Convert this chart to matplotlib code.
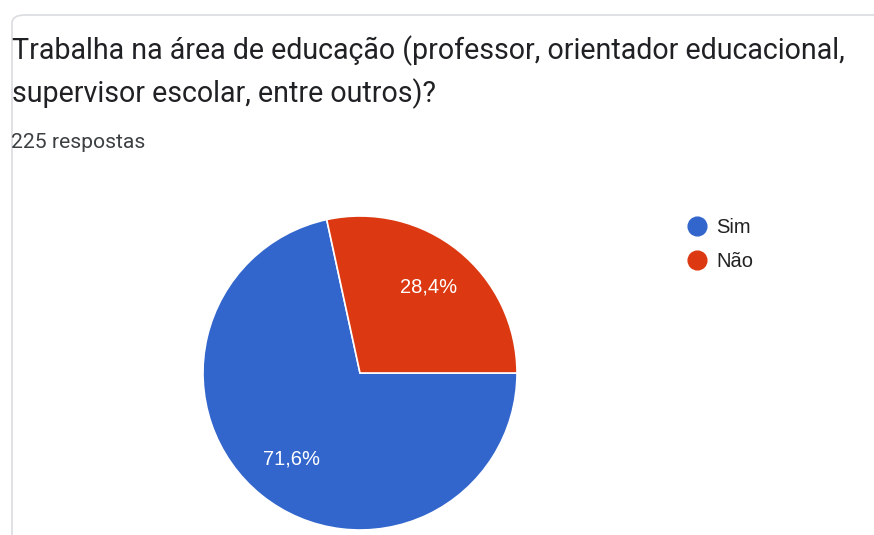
import numpy as np
import matplotlib.pyplot as plt
from matplotlib.patches import FancyBboxPatch
from matplotlib.lines import Line2D

labels = ['Sim', 'Não']
values = [71.6, 28.4]
colors = ['#3366cc', '#dc3912']
pct_labels = ['71,6%', '28,4%']

title_lines = ['Trabalha na área de educação (professor, orientador educacional,',
               'supervisor escolar, entre outros)?']
subtitle = '225 respostas'

W, H = 874, 535
fig = plt.figure(figsize=(W / 100, H / 100), dpi=100)
fig.patch.set_facecolor('white')

# card border
card = FancyBboxPatch((12 / W, -0.05), 1.0, 1 - 15 / H + 0.05,
                      boxstyle='round,pad=0,rounding_size=0.015',
                      transform=fig.transFigure, facecolor='white',
                      edgecolor='#dadce0', linewidth=1.2, zorder=-1)
fig.patches.append(card)

# title lines
for line, yb in zip(title_lines, [59, 102]):
    fig.text(12 / W, 1 - yb / H, line, fontsize=20.6, family='Roboto',
             color='#202124', va='baseline', ha='left')
fig.text(11 / W, 1 - 148 / H, subtitle, fontsize=15.2, family='Roboto',
         color='#3c4043', va='baseline', ha='left')

# pie: centre (360, 373), radius 157 px
cx, cy, r = 360, 373, 157
ax = fig.add_axes([(cx - r) / W, (H - cy - r) / H, 2 * r / W, 2 * r / H])
wedges, _ = ax.pie(values, colors=colors, startangle=102.24, counterclock=True,
                   wedgeprops=dict(edgecolor='white', linewidth=1.2))
for w, lab in zip(wedges, pct_labels):
    ang = np.deg2rad((w.theta1 + w.theta2) / 2)
    ax.text(0.7 * np.cos(ang), 0.7 * np.sin(ang), lab, ha='center', va='center',
            color='white', fontsize=14.5, family='Liberation Sans')
ax.set_xlim(-1, 1)
ax.set_ylim(-1, 1)
ax.set_aspect('equal')
ax.axis('off')

handles = [Line2D([], [], marker='o', linestyle='none', markersize=13.5,
                  markerfacecolor=c, markeredgecolor=c) for c in colors]
fig.legend(handles, labels, loc='upper left', bbox_to_anchor=(687 / W, 1 - 218 / H),
           frameon=False, borderpad=0, borderaxespad=0, handlelength=1.0,
           handletextpad=0.45, labelspacing=0.75,
           prop={'family': 'Liberation Sans', 'size': 14.5}, labelcolor='#222222')

fig.savefig('out.png', dpi=100, facecolor='white')
